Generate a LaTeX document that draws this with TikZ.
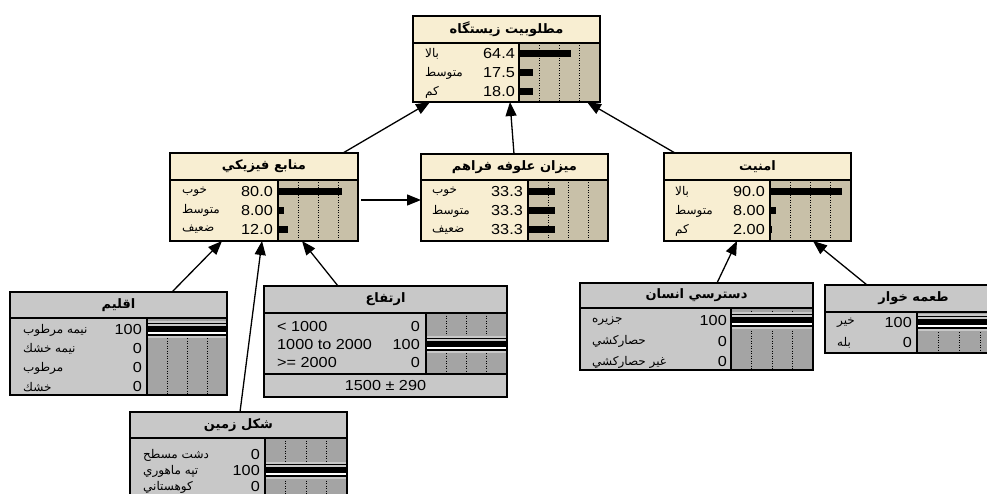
\documentclass[tikz,border=0pt]{standalone}
\usepackage{fontspec}
\setmainfont{Liberation Sans}
\newfontfamily\numfont[FakeStretch=1.12]{Liberation Sans}
\newfontfamily\arfont[Script=Arabic]{DejaVu Sans}
\TeXXeTstate=1
\usetikzlibrary{fit,calc,arrows.meta}
\definecolor{beigefill}{RGB}{248,238,210}
\definecolor{beigebar}{RGB}{200,192,168}
\definecolor{greyfill}{RGB}{200,200,200}
\definecolor{greybar}{RGB}{164,164,164}
\tikzset{
  netbox/.style={inner sep=0pt, outer sep=0pt},
  lbl/.style={anchor=west, font=\arfont\fontsize{12}{14}\selectfont, inner sep=0pt},
  latlbl/.style={anchor=west, font=\numfont\fontsize{14.5}{16}\selectfont, inner sep=0pt},
  numlbl/.style={anchor=east, font=\numfont\fontsize{14.5}{16}\selectfont, inner sep=0pt},
  ttl/.style={font=\arfont\bfseries\fontsize{13}{15}\selectfont, inner sep=0pt},
  link/.style={line width=1.3pt, -{Triangle[length=14pt,width=11pt]}},
  border/.style={line width=1.5pt},
  dots/.style={line width=0.9pt, dash pattern=on 1pt off 1.5pt},
}
% #1 name #2 x1 #3 y1 #4 x2 #5 ydiv #6 ybot #7 barx #8 kind #9 title
\newcommand\nbox[9]{%
  \node[netbox, fit={(#2,#3) (#4,#6)}, fill=#8fill] (#1) {};
  \fill[#8bar] (#7,#5) rectangle (#4,#6);
  \foreach \f in {0.25,0.5,0.75} \draw[dots] ({#7+\f*(#4-#7)},#5) -- ({#7+\f*(#4-#7)},#6);
  \draw[border] (#2,#5) -- (#4,#5);
  \draw[border] (#7,#5) -- (#7,#6);
  \draw[border] (#1.north west) rectangle (#1.south east);
  \node[ttl] (#1-t) at ({(#2+#4)/2},{(#3+#5)/2}) {#9};
}
% #1 id #2 y #3 labx #4 label #5 numx #6 num #7 barx #8 pct
\newcommand\prow[8]{%
  \node[lbl] (#1-l) at (#3,#2) {#4};
  \node[numlbl] (#1-n) at (#5,#2) {#6};
  \fill (#7,#2-3.5) rectangle ({#7+#8*0.805},#2+3.5);
}
% #1 id #2 y #3 labx #4 label #5 numx #6 num
\newcommand\zrow[6]{%
  \node[lbl] (#1-l) at (#3,#2) {#4};
  \node[numlbl] (#1-n) at (#5,#2) {#6};
}
% #1 y #2 barx #3 x2
\newcommand\fullrow[3]{%
  \fill[greyfill] (#2,#1-9) rectangle (#3,#1+8);
  \fill (#2,#1-7) rectangle (#3,#1-5.8);
  \fill (#2,#1-4.5) rectangle (#3,#1+1.5);
  \fill[white] (#2,#1+2.3) rectangle (#3,#1+3.6);
  \fill (#2,#1+4.4) rectangle (#3,#1+6);
  \draw[border] (#2,#1-9) -- (#2,#1+8);
}
\begin{document}
\begin{tikzpicture}[x=1pt,y=-1pt]
\useasboundingbox (0,0) rectangle (987,494);
\clip (0,0) rectangle (987,494);
\fill[white] (0,0) rectangle (987,494);

% top node
\nbox{hs}{413}{16}{600}{43}{102}{519}{beige}{\beginR مطلوبيت زيستگاه\endR}
\prow{hs1}{54}{425}{\beginR بالا\endR}{515}{64.4}{519}{64.4}
\prow{hs2}{73}{425}{\beginR متوسط\endR}{515}{17.5}{519}{17.5}
\prow{hs3}{92}{425}{\beginR كم\endR}{515}{18.0}{519}{18.0}

% physical resources
\nbox{phys}{170}{153}{358}{180}{241}{278}{beige}{\beginR منابع فيزيكي\endR}
\prow{ph1}{191.5}{182}{\beginR خوب\endR}{273}{80.0}{278}{80.0}
\prow{ph2}{210.5}{182}{\beginR متوسط\endR}{273}{8.00}{278}{8.00}
\prow{ph3}{229.5}{182}{\beginR ضعيف\endR}{273}{12.0}{278}{12.0}

% forage
\nbox{forage}{421}{154}{608}{180}{241}{528}{beige}{\beginR ميزان علوفه فراهم\endR}
\prow{fo1}{192}{432}{\beginR خوب\endR}{523}{33.3}{528}{33.3}
\prow{fo2}{211}{432}{\beginR متوسط\endR}{523}{33.3}{528}{33.3}
\prow{fo3}{230}{432}{\beginR ضعيف\endR}{523}{33.3}{528}{33.3}

% security
\nbox{sec}{664}{153}{851}{180}{241}{770}{beige}{\beginR امنيت\endR}
\prow{se1}{192}{675}{\beginR بالا\endR}{765}{90.0}{770}{90.0}
\prow{se2}{211}{675}{\beginR متوسط\endR}{765}{8.00}{770}{8.00}
\prow{se3}{230}{675}{\beginR كم\endR}{765}{2.00}{770}{2.00}

% climate
\nbox{clim}{10}{292}{227}{318}{395}{147}{grey}{\beginR اقليم\endR}
\fullrow{330}{147}{227}
\zrow{cl1}{330}{23}{\beginR نيمه مرطوب\endR}{142}{100}
\zrow{cl2}{349}{23}{\beginR نيمه خشك\endR}{142}{0}
\zrow{cl3}{368}{23}{\beginR مرطوب\endR}{142}{0}
\zrow{cl4}{387}{23}{\beginR خشك\endR}{142}{0}
\draw[border] (clim.north west) rectangle (clim.south east);

% elevation
\nbox{elev}{264}{286}{507}{313}{374}{426}{grey}{\beginR ارتفاع\endR}
\fullrow{345}{426}{507}
\node[latlbl] (el1-l) at (277,327) {< 1000};
\node[numlbl] (el1-n) at (420,327) {0};
\node[latlbl] (el2-l) at (277,345) {1000 to 2000};
\node[numlbl] (el2-n) at (420,345) {100};
\node[latlbl] (el3-l) at (277,363) {>= 2000};
\node[numlbl] (el3-n) at (420,363) {0};
\node[netbox, fit={(264,374) (507,397)}, fill=greyfill] (elevfoot) {};
\node[font=\numfont\fontsize{14.5}{16}\selectfont, inner sep=0pt] (elevfoot-t) at (385.5,386) {1500 ± 290};
\draw[border] (elev.north west) rectangle (elev.south east);
\draw[border] (elevfoot.north west) rectangle (elevfoot.south east);

% human access
\nbox{access}{580}{283}{813}{308}{370}{731}{grey}{\beginR دسترسي انسان\endR}
\fullrow{321}{731}{813}
\zrow{ac1}{321}{592}{\beginR جزيره\endR}{727}{100}
\zrow{ac2}{341.5}{592}{\beginR حصاركشي\endR}{727}{0}
\zrow{ac3}{362}{592}{\beginR غير حصاركشي\endR}{727}{0}
\draw[border] (access.north west) rectangle (access.south east);

% predator
\nbox{pred}{825}{285}{1002}{312}{353}{917}{grey}{\beginR طعمه خوار\endR}
\fullrow{323}{917}{1002}
\zrow{pr1}{323}{837}{\beginR خير\endR}{912}{100}
\zrow{pr2}{343}{837}{\beginR بله\endR}{912}{0}
\draw[border] (pred.north west) rectangle (pred.south east);

% landform
\nbox{land}{130}{412}{347}{438}{510}{265}{grey}{\beginR شكل زمين\endR}
\fullrow{471}{265}{347}
\zrow{la1}{455}{143}{\beginR دشت مسطح\endR}{260}{0}
\zrow{la2}{471}{143}{\beginR تپه ماهوري\endR}{260}{100}
\zrow{la3}{487}{143}{\beginR كوهستاني\endR}{260}{0}
\draw[border] (land.north west) rectangle (land.south east);

% links
\draw[link] ($(phys.north west)+(173,0)$) -- ($(hs.south west)+(17,0)$);
\draw[link] ($(forage.north west)+(93,0)$) -- ($(hs.south west)+(97,0)$);
\draw[link] ($(sec.north west)+(11,0)$) -- ($(hs.south east)+(-13,0)$);
\draw[link] ($(phys.north east)+(3,47)$) -- ($(forage.north west)+(0,46)$);
\draw[link] ($(clim.north west)+(162,0)$) -- ($(phys.south west)+(52,0)$);
\draw[link] ($(land.north west)+(110,0)$) -- ($(phys.south west)+(92,0)$);
\draw[link] ($(elev.north west)+(74,0)$) -- ($(phys.south west)+(132,0)$);
\draw[link] ($(access.north west)+(137,0)$) -- ($(sec.south west)+(73,0)$);
\draw[link] ($(pred.north west)+(42,0)$) -- ($(sec.south west)+(149,0)$);
\end{tikzpicture}
\end{document}
